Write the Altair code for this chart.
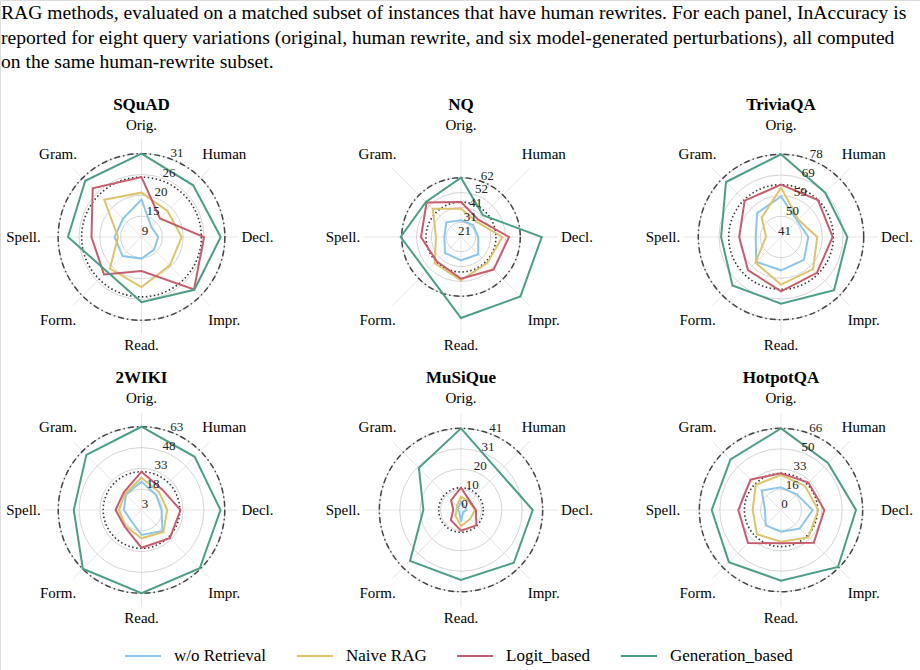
import altair as alt
import pandas as pd

W, H = 920, 670
SPOKE_LEN = 97     # px from a panel centre to the end of its spokes
FONT = "Liberation Serif"

AXES = ["Orig.", "Human", "Decl.", "Impr.", "Read.", "Form.", "Spell.", "Gram."]
# px from a panel centre to each axis caption
AXIS_LABEL_RAD = [112, 117, 116, 117, 108, 118, 118, 118]
SERIES = ["w/o Retrieval", "Naive RAG", "Logit_based", "Generation_based"]
COLORS = ["#8cc6ea", "#ddc36c", "#c65d6d", "#4c9d88"]
DATASETS = ["SQuAD", "NQ", "TriviaQA", "2WIKI", "MuSiQue", "HotpotQA"]

# panel centres on the page (3 x 2 grid)
CENTER_X = [141.5, 461, 781, 141.5, 461, 781]
CENTER_Y = [237, 237, 237, 510, 510, 510]

# radial value at the centre and at the spoke ends of each panel
RADIAL_MIN = [9.2, 20.8, 40.8, 3.0, 0.0, 0.0]
RADIAL_MAX = [34.8, 88.2, 84.2, 72.9, 48.7, 78.4]

TICKS = [
    [9.2, 14.7, 20.2, 25.7, 31.2],
    [20.8, 31.1, 41.4, 51.7, 62.0],
    [40.8, 50.05, 59.3, 68.55, 77.8],
    [3.0, 18.0, 33.0, 48.0, 63.0],
    [0.0, 10.25, 20.5, 30.75, 41.0],
    [0.0, 16.5, 33.0, 49.5, 66.0],
]
TICK_LABELS = [
    ["9", "15", "20", "26", "31"],
    ["21", "31", "41", "52", "62"],
    ["41", "50", "59", "69", "78"],
    ["3", "18", "33", "48", "63"],
    ["0", "10", "20", "31", "41"],
    ["0", "16", "33", "50", "66"],
]

# InAccuracy (%) per dataset, values in AXES order
WO_RETRIEVAL = [
    [19.1, 12.9, 13.6, 13.9, 14.9, 16.3, 16.3, 16.1],
    [32.4, 32.6, 32.8, 37.8, 37.0, 36.5, 32.4, 35.2],
    [59.0, 51.1, 53.0, 55.3, 55.7, 56.5, 52.1, 55.9],
    [23.4, 18.1, 17.4, 24.4, 21.0, 13.7, 15.7, 18.8],
    [4.2, 2.5, 2.8, 1.5, 5.9, 1.2, 1.5, 1.8],
    [18.3, 18.0, 25.6, 21.3, 17.5, 17.5, 12.9, 22.1],
]
NAIVE_RAG = [
    [20.9, 18.9, 19.8, 19.8, 22.4, 21.0, 15.4, 23.1],
    [40.5, 35.9, 49.5, 46.5, 50.9, 46.6, 38.2, 48.6],
    [62.9, 51.8, 57.0, 61.1, 62.1, 57.0, 47.5, 53.0],
    [26.3, 21.0, 21.5, 25.3, 23.4, 19.3, 19.4, 19.6],
    [6.7, 5.9, 7.0, 6.5, 8.0, 4.0, 2.2, 3.0],
    [28.3, 27.5, 30.1, 31.3, 25.6, 27.6, 22.9, 28.8],
]
LOGIT_BASED = [
    [25.0, 16.1, 25.7, 28.8, 18.2, 23.2, 22.4, 27.4],
    [45.1, 37.8, 54.2, 52.8, 49.8, 44.7, 48.6, 54.6],
    [64.2, 64.2, 63.9, 63.5, 65.1, 61.7, 59.5, 63.8],
    [30.6, 24.0, 31.1, 31.8, 30.2, 20.1, 21.7, 21.0],
    [11.2, 6.3, 7.5, 10.9, 10.4, 7.2, 3.9, 7.0],
    [29.6, 31.3, 35.0, 37.5, 26.9, 37.7, 34.5, 34.8],
]
GENERATION_BASED = [
    [31.2, 28.5, 30.1, 28.9, 26.4, 22.1, 28.6, 30.2],
    [62.0, 42.3, 76.9, 79.2, 77.1, 54.8, 62.7, 55.3],
    [77.8, 68.8, 70.5, 74.4, 70.6, 71.5, 67.6, 75.6],
    [63.0, 57.2, 59.9, 62.4, 63.0, 62.8, 51.8, 59.2],
    [41.0, 27.1, 36.0, 37.5, 35.1, 36.2, 18.9, 29.9],
    [66.0, 53.7, 60.6, 65.1, 57.1, 59.6, 56.0, 57.7],
]

CAPTION = [
    "RAG methods, evaluated on a matched subset of instances that have human rewrites. For each panel, InAccuracy is",
    "reported for eight query variations (original, human rewrite, and six model-generated perturbations), all computed",
    "on the same human-rewrite subset.",
]


def panel_info(p):
    return dict(panel=DATASETS[p], cx=CENTER_X[p], cy=CENTER_Y[p],
                lo=RADIAL_MIN[p], hi=RADIAL_MAX[p])


series_rows, spoke_rows, grid_rows, ring_rows, tick_rows, title_rows = [], [], [], [], [], []
all_series = [WO_RETRIEVAL, NAIVE_RAG, LOGIT_BASED, GENERATION_BASED]
for p in range(len(DATASETS)):
    info = panel_info(p)
    for name, table in zip(SERIES, all_series):
        for k, v in enumerate(table[p]):
            series_rows.append(dict(info, series=name, k=k, value=v))
    for k, lab in enumerate(AXES):
        spoke_rows.append(dict(info, k=k, label=lab, lrad=AXIS_LABEL_RAD[k]))
    for t, lab in zip(TICKS[p], TICK_LABELS[p]):
        grid_rows.append(dict(info, value=t))
        tick_rows.append(dict(info, value=t, label=lab))
    # reference rings at the original-query score of the two adaptive methods
    ring_rows.append(dict(info, ring="logit", value=LOGIT_BASED[p][0]))
    ring_rows.append(dict(info, ring="generation", value=GENERATION_BASED[p][0]))
    title_rows.append(dict(info, label=DATASETS[p]))

series_df = pd.DataFrame(series_rows)
spoke_df = pd.DataFrame(spoke_rows)
grid_df = pd.DataFrame(grid_rows)
ring_df = pd.DataFrame(ring_rows)
tick_df = pd.DataFrame(tick_rows)
title_df = pd.DataFrame(title_rows)
caption_df = pd.DataFrame({"line": list(range(len(CAPTION))), "text": CAPTION})

RADIUS = f"(datum.value - datum.lo) / (datum.hi - datum.lo) * {SPOKE_LEN}"
xs = alt.Scale(domain=[0, W], nice=False, zero=False)
ys = alt.Scale(domain=[0, H], nice=False, zero=False, reverse=True)
X = alt.X("px:Q", scale=xs, axis=None)
Y = alt.Y("py:Q", scale=ys, axis=None)


def polar(chart, radius, angle, dx=0, dy=0):
    return (chart.transform_calculate(r=radius)
            .transform_calculate(a=angle)
            .transform_calculate(px=f"datum.cx + datum.r * sin(datum.a) + ({dx})")
            .transform_calculate(py=f"datum.cy - datum.r * cos(datum.a) + ({dy})"))


# spokes
spokes = (alt.Chart(spoke_df)
          .transform_calculate(a="datum.k * PI / 4")
          .transform_calculate(px="datum.cx", py="datum.cy",
                               ex=f"datum.cx + {SPOKE_LEN} * sin(datum.a)",
                               ey=f"datum.cy - {SPOKE_LEN} * cos(datum.a)")
          .mark_rule(color="#e6e6e6", strokeWidth=1)
          .encode(x=X, y=Y, x2="ex:Q", y2="ey:Q"))


def circles(df, **mark):
    return (alt.Chart(df)
            .transform_calculate(r=RADIUS)
            .transform_calculate(px="datum.cx", py="datum.cy", sz="pow(2 * datum.r, 2)")
            .mark_point(shape="circle", filled=False, opacity=1, **mark)
            .encode(x=X, y=Y, size=alt.Size("sz:Q", scale=None, legend=None)))


grid = circles(grid_df, color="#cfcfcf", strokeWidth=0.9)
dotted = circles(ring_df[ring_df.ring == "logit"], color="#333333",
                 strokeWidth=1.6, strokeDash=[1.5, 2.5])
dashdot = circles(ring_df[ring_df.ring == "generation"], color="#444444",
                  strokeWidth=1.5, strokeDash=[6, 3, 1.5, 3])

color = alt.Color(
    "series:N",
    scale=alt.Scale(domain=SERIES, range=COLORS),
    legend=alt.Legend(
        title=None, orient="none", direction="horizontal",
        legendX=124, legendY=637,
        symbolType="stroke", symbolSize=1296, symbolStrokeWidth=2,
        labelFont=FONT, labelFontSize=17, labelColor="black",
        labelOffset=12, columnPadding=26,
    ),
)

lines = []
for name in SERIES:
    lines.append(
        polar(alt.Chart(series_df).transform_filter(alt.datum.series == name),
              RADIUS, "datum.k * PI / 4")
        .mark_line(interpolate="linear-closed", strokeWidth=2)
        .encode(x=X, y=Y, color=color, detail="panel:N", order="k:Q")
    )

tick_text = (polar(alt.Chart(tick_df), RADIUS, "PI / 8", dx=3.5, dy=-6.5)
             .mark_text(font=FONT, fontSize=13, color="#222222",
                        align="center", baseline="middle")
             .encode(x=X, y=Y, text="label:N"))

axis_text = (polar(alt.Chart(spoke_df), "datum.lrad", "datum.k * PI / 4")
             .mark_text(font=FONT, fontSize=15, color="black",
                        align="center", baseline="middle")
             .encode(x=X, y=Y, text="label:N"))

titles = (alt.Chart(title_df)
          .transform_calculate(px="datum.cx", py="datum.cy - 132")
          .mark_text(font=FONT, fontSize=17, fontWeight="bold", color="black",
                     align="center", baseline="middle")
          .encode(x=X, y=Y, text="label:N"))

caption = (alt.Chart(caption_df)
           .transform_calculate(px="1", py="13 + datum.line * 24.5")
           .mark_text(font=FONT, fontSize=19.6, color="black",
                      align="left", baseline="middle")
           .encode(x=X, y=Y, text="text:N"))

chart = (alt.layer(spokes, grid, dotted, dashdot, *lines, tick_text, axis_text,
                   titles, caption)
         .properties(width=W, height=H, padding=0,
                     autosize=alt.AutoSizeParams(type="none"))
         .configure_view(stroke=None)
         .configure(background="white"))

chart.save("out.html", embed_options={"renderer": "svg", "actions": False})
